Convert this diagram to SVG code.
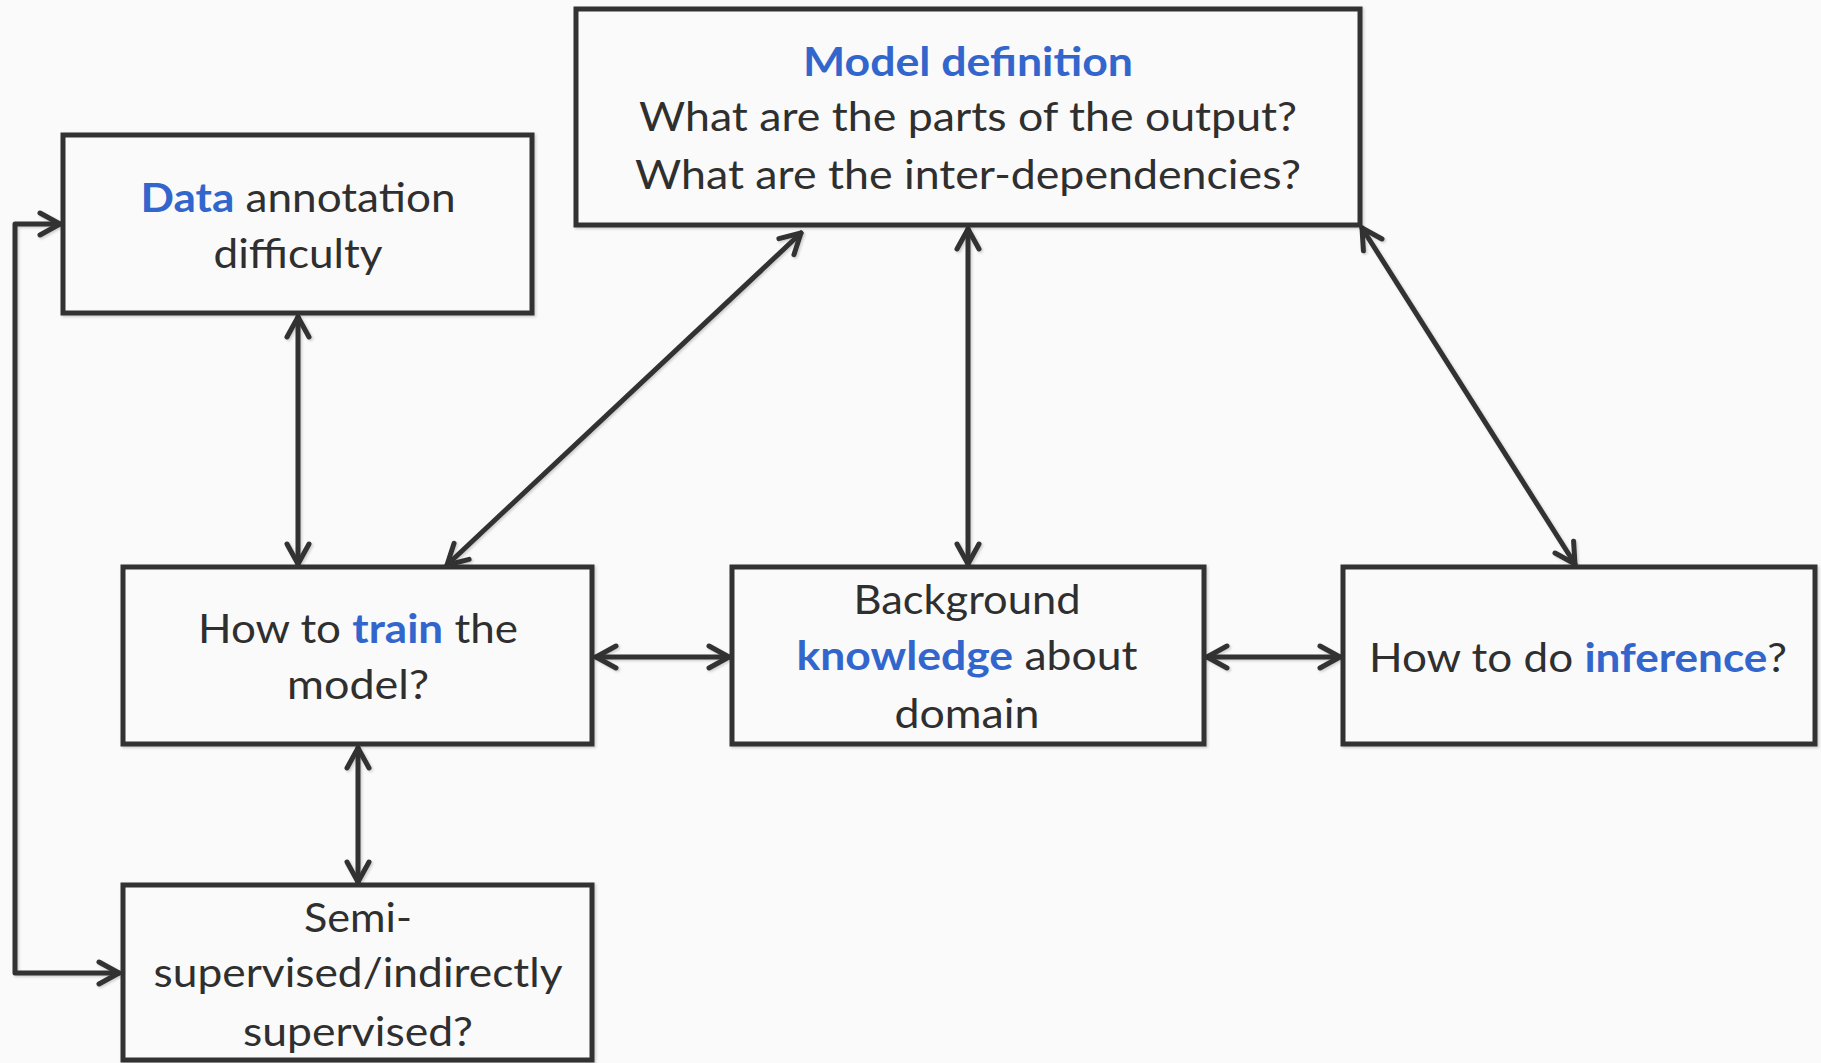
<svg xmlns="http://www.w3.org/2000/svg" width="1821" height="1063" viewBox="0 0 1821 1063">
  <defs>
    <style>
      .box { fill: #fafafa; stroke: #333333; stroke-width: 5; }
      .lbl { font-family: Lato, "Open Sans", "Liberation Sans", sans-serif; font-size: 40px; fill: #2f2f2f; text-anchor: middle; }
      .em { font-weight: bold; fill: #3366cc; }
      .conn { fill: none; stroke: #333333; stroke-width: 5; stroke-linecap: round; stroke-linejoin: round; }
    </style>
    <marker id="head" markerUnits="userSpaceOnUse" viewBox="-25 -15 30 30" refX="0" refY="0" markerWidth="30" markerHeight="30" orient="auto-start-reverse">
      <path d="M -20 -11 L 0 0 L -20 11" fill="none" stroke="#333333" stroke-width="5" stroke-linecap="round" stroke-linejoin="round"/>
    </marker>
    <filter id="shade" x="-5%" y="-5%" width="110%" height="110%">
      <feDropShadow dx="1.5" dy="1.5" stdDeviation="1.2" flood-color="#000000" flood-opacity="0.18"/>
    </filter>
  </defs>

  <rect x="0" y="0" width="1821" height="1063" fill="#fafafa"/>

  <!-- connectors -->
  <g id="connectors" filter="url(#shade)">
    <line class="conn" x1="298" y1="317" x2="298" y2="564" marker-start="url(#head)" marker-end="url(#head)"/>
    <line class="conn" x1="801" y1="233" x2="447" y2="565" marker-start="url(#head)" marker-end="url(#head)"/>
    <line class="conn" x1="968" y1="229" x2="968" y2="564" marker-start="url(#head)" marker-end="url(#head)"/>
    <line class="conn" x1="1362" y1="228" x2="1575" y2="564" marker-start="url(#head)" marker-end="url(#head)"/>
    <line class="conn" x1="596" y1="657" x2="729" y2="657" marker-start="url(#head)" marker-end="url(#head)"/>
    <line class="conn" x1="1207" y1="657" x2="1340" y2="657" marker-start="url(#head)" marker-end="url(#head)"/>
    <line class="conn" x1="358" y1="748" x2="358" y2="882" marker-start="url(#head)" marker-end="url(#head)"/>
    <path class="conn" d="M 119 973 L 15 973 L 15 224 L 60 224" marker-start="url(#head)" marker-end="url(#head)"/>
  </g>

  <!-- model definition -->
  <g id="model-definition">
    <rect class="box" x="576" y="9" width="784" height="216" filter="url(#shade)"/>
    <text class="lbl" x="968" y="76" textLength="330" lengthAdjust="spacingAndGlyphs"><tspan class="em">Model definition</tspan></text>
    <text class="lbl" x="968" y="131" textLength="658" lengthAdjust="spacingAndGlyphs">What are the parts of the output?</text>
    <text class="lbl" x="968" y="189" textLength="666" lengthAdjust="spacingAndGlyphs">What are the inter-dependencies?</text>
  </g>

  <!-- data annotation -->
  <g id="data-annotation">
    <rect class="box" x="63" y="135" width="469" height="178" filter="url(#shade)"/>
    <text class="lbl" x="298" y="212" textLength="315" lengthAdjust="spacingAndGlyphs"><tspan class="em">Data</tspan> annotation</text>
    <text class="lbl" x="298" y="268" textLength="169" lengthAdjust="spacingAndGlyphs">difficulty</text>
  </g>

  <!-- training -->
  <g id="train">
    <rect class="box" x="123" y="567" width="469" height="177" filter="url(#shade)"/>
    <text class="lbl" x="358" y="643" textLength="320" lengthAdjust="spacingAndGlyphs">How to <tspan class="em">train</tspan> the</text>
    <text class="lbl" x="358" y="699" textLength="142" lengthAdjust="spacingAndGlyphs">model?</text>
  </g>

  <!-- background knowledge -->
  <g id="background-knowledge">
    <rect class="box" x="732" y="567" width="472" height="177" filter="url(#shade)"/>
    <text class="lbl" x="967" y="614" textLength="227" lengthAdjust="spacingAndGlyphs">Background</text>
    <text class="lbl" x="967" y="670" textLength="341" lengthAdjust="spacingAndGlyphs"><tspan class="em">knowledge</tspan> about</text>
    <text class="lbl" x="967" y="728" textLength="145" lengthAdjust="spacingAndGlyphs">domain</text>
  </g>

  <!-- inference -->
  <g id="inference">
    <rect class="box" x="1343" y="567" width="472" height="177" filter="url(#shade)"/>
    <text class="lbl" x="1578" y="672" textLength="418" lengthAdjust="spacingAndGlyphs">How to do <tspan class="em">inference</tspan>?</text>
  </g>

  <!-- semi-supervised -->
  <g id="semi-supervised">
    <rect class="box" x="123" y="885" width="469" height="175" filter="url(#shade)"/>
    <text class="lbl" x="358" y="932" textLength="108" lengthAdjust="spacingAndGlyphs">Semi-</text>
    <text class="lbl" x="358" y="987" textLength="409" lengthAdjust="spacingAndGlyphs">supervised/indirectly</text>
    <text class="lbl" x="358" y="1046" textLength="230" lengthAdjust="spacingAndGlyphs">supervised?</text>
  </g>
</svg>
